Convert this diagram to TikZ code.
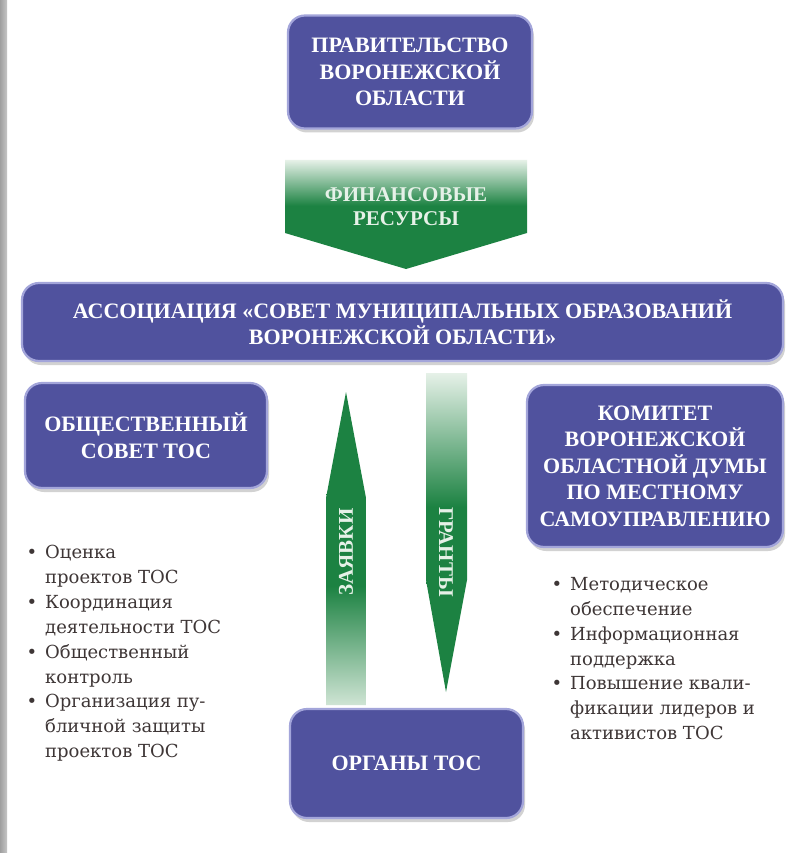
\documentclass[tikz,border=0pt]{standalone}
\usepackage{fontspec}
\setmainfont{Liberation Serif}
\newfontfamily\listfont{DejaVu Serif}
\usetikzlibrary{shadows}

\definecolor{boxblue}{HTML}{50529E}
\definecolor{rimblue}{HTML}{A3A5DA}
\definecolor{tosgreen}{HTML}{1C8242}
\definecolor{palegreen}{HTML}{E6F1E8}
\definecolor{fadegreen}{HTML}{CFE4D4}
\definecolor{listgray}{HTML}{3E3636}

\pgfdeclareverticalshading{downfade}{100bp}{color(0bp)=(tosgreen); color(54bp)=(tosgreen); color(75bp)=(palegreen); color(100bp)=(palegreen)}
\pgfdeclareverticalshading{upfade}{100bp}{color(0bp)=(fadegreen); color(25bp)=(fadegreen); color(44bp)=(tosgreen); color(100bp)=(tosgreen)}

\newcommand{\tosbullet}{\llap{\textbullet\hspace{8pt}}}

\begin{document}
\begin{tikzpicture}[x=1pt,y=-1pt,
    tosbox/.style={rounded corners=17pt, draw=rimblue, line width=2.2pt, fill=boxblue,
      text=white, font=\bfseries\fontsize{22}{26.5}\selectfont, align=center, inner sep=0pt,
      drop shadow={shadow xshift=2pt, shadow yshift=-4pt, opacity=0.35}},
    arrowtext/.style={text=palegreen, font=\bfseries\fontsize{21}{24}\selectfont, align=center},
    tositems/.style={anchor=north west, inner sep=0pt, align=left, text=listgray,
      font=\listfont\fontsize{18}{24.9}\selectfont}]
  \useasboundingbox[fill=white] (0,0) rectangle (791,853);
  \shade[left color=gray!75, right color=gray!45] (0,0) rectangle (7,853);

  % green arrows
  \shade[shading=downfade] (285,160) -- (527,160) -- (527,233) -- (406,269) -- (285,233) -- cycle;
  \shade[shading=upfade] (326,705) -- (326,498) -- (346,392) -- (366,498) -- (366,705) -- cycle;
  \shade[shading=downfade] (426,373) -- (467,373) -- (467,580) -- (446,692) -- (426,580) -- cycle;
  \node[arrowtext] (funds) at (406,207) {ФИНАНСОВЫЕ\\РЕСУРСЫ};
  \node[arrowtext, rotate=90] (bids) at (346,552) {ЗАЯВКИ};
  \node[arrowtext, rotate=-90] (grants) at (446,552) {ГРАНТЫ};

  % blocks
  \node[tosbox, minimum width=244pt, minimum height=113pt] (gov) at (410,72)
    {ПРАВИТЕЛЬСТВО\\ВОРОНЕЖСКОЙ\\ОБЛАСТИ};
  \node[tosbox, minimum width=761pt, minimum height=78pt] (assoc) at (402.5,322)
    {АССОЦИАЦИЯ «СОВЕТ МУНИЦИПАЛЬНЫХ ОБРАЗОВАНИЙ\\ВОРОНЕЖСКОЙ ОБЛАСТИ»};
  \node[tosbox, minimum width=242pt, minimum height=105pt] (council) at (146,435.5)
    {ОБЩЕСТВЕННЫЙ\\СОВЕТ ТОС};
  \node[tosbox, minimum width=256pt, minimum height=162pt] (duma) at (655,466)
    {КОМИТЕТ\\ВОРОНЕЖСКОЙ\\ОБЛАСТНОЙ ДУМЫ\\ПО МЕСТНОМУ\\САМОУПРАВЛЕНИЮ};
  \node[tosbox, minimum width=233pt, minimum height=109pt] (organs) at (406.5,763.5)
    {ОРГАНЫ ТОС};

  % lists
  \node[tositems] (councillist) at (45,545)
    {\tosbullet Оценка\\проектов ТОС\\\tosbullet Координация\\деятельности ТОС\\
     \tosbullet Общественный\\контроль\\\tosbullet Организация пу-\\бличной защиты\\проектов ТОС};
  \node[tositems] (dumalist) at (570,577)
    {\tosbullet Методическое\\обеспечение\\\tosbullet Информационная\\поддержка\\
     \tosbullet Повышение квали-\\фикации лидеров и\\активистов ТОС};
\end{tikzpicture}
\end{document}
